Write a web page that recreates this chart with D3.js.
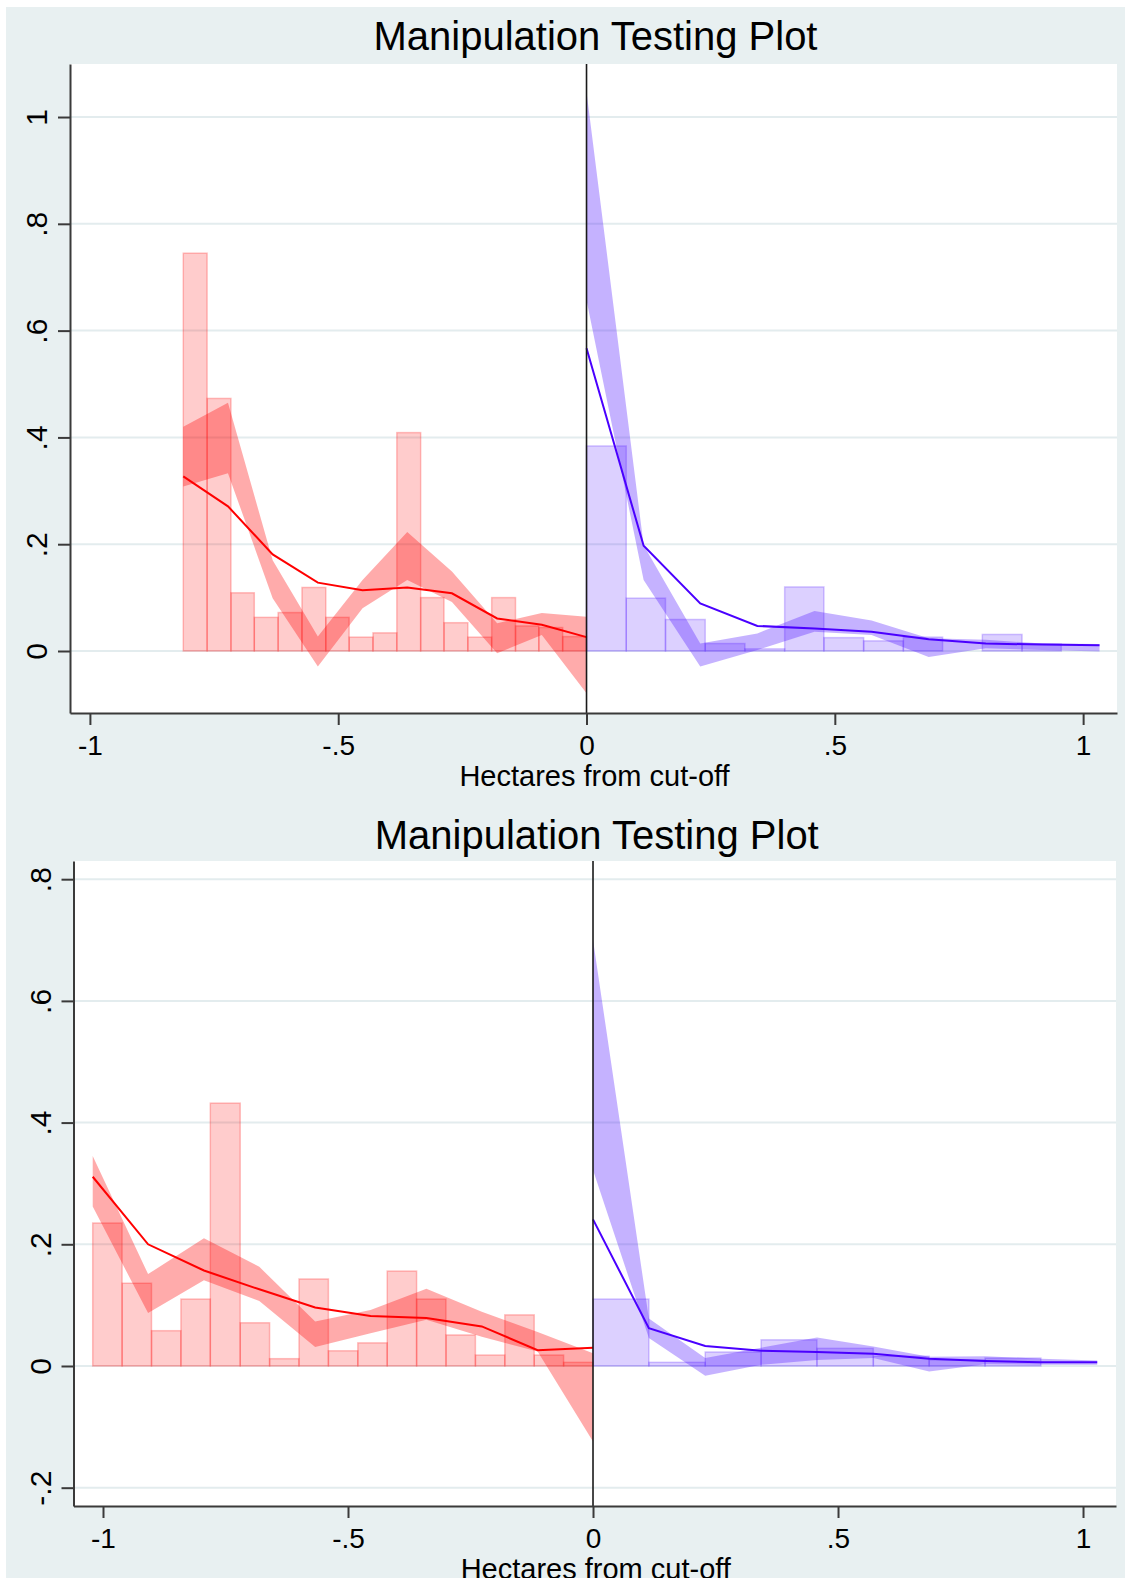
<!DOCTYPE html>
<html>
<head>
<meta charset="utf-8">
<script src="https://cdn.jsdelivr.net/npm/d3@7"></script>
<style>
body { margin: 0; background: #fff; }
text { font-family: Helvetica, "Liberation Sans", Arial, sans-serif; fill: #000; }
</style>
</head>
<body>
<div id="chart"></div>
<script>
// text
var TITLE = "Manipulation Testing Plot";
var XTITLE = "Hectares from cut-off";

// x axis, same on both panels
var XTICKS = [-1, -0.5, 0, 0.5, 1];
var XTICKLABELS = ["-1", "-.5", "0", ".5", "1"];

// top panel: y axis
var TOP_YTICKS = [0, 0.2, 0.4, 0.6, 0.8, 1];
var TOP_YTICKLABELS = ["0", ".2", ".4", ".6", ".8", "1"];

// top panel: left of cut-off (histogram bin edges + heights)
var TOP_L_EDGES = [-0.812, -0.764, -0.716, -0.669, -0.621, -0.573, -0.525, -0.478, -0.430,
    -0.382, -0.334, -0.287, -0.239, -0.191, -0.143, -0.096, -0.048, 0];
var TOP_L_HIST = [0.745, 0.473, 0.109, 0.063, 0.072, 0.119, 0.063, 0.026, 0.034,
    0.409, 0.100, 0.053, 0.026, 0.100, 0.047, 0.044, 0.027];
// top panel: left density fit and confidence band
var TOP_L_X = [-0.812, -0.722, -0.632, -0.541, -0.451, -0.361, -0.271, -0.180, -0.090, 0];
var TOP_L_FIT = [0.327, 0.271, 0.181, 0.128, 0.114, 0.119, 0.108, 0.061, 0.049, 0.026];
var TOP_L_LO = [0.308, 0.333, 0.099, -0.029, 0.080, 0.133, 0.092, -0.004, 0.030, -0.079];
var TOP_L_HI = [0.420, 0.465, 0.170, 0.027, 0.133, 0.223, 0.149, 0.052, 0.071, 0.064];

// top panel: right of cut-off
var TOP_R_EDGES = [0, 0.080, 0.159, 0.239, 0.319, 0.399, 0.478, 0.558, 0.638, 0.717, 0.797, 0.877, 0.956];
var TOP_R_HIST = [0.384, 0.099, 0.059, 0.014, 0.004, 0.120, 0.025, 0.019, 0.026, 0, 0.031, 0.013];
var TOP_R_X = [0, 0.115, 0.229, 0.344, 0.459, 0.574, 0.689, 0.804, 0.918, 1.033];
var TOP_R_FIT = [0.567, 0.197, 0.089, 0.047, 0.042, 0.036, 0.022, 0.014, 0.012, 0.011];
var TOP_R_LO = [0.657, 0.133, -0.029, 0.002, 0.036, 0.030, -0.011, 0.005, 0.002, -0.001];
var TOP_R_HI = [1.047, 0.198, 0.014, 0.033, 0.075, 0.057, 0.024, 0.021, 0.014, 0.013];

// bottom panel: y axis
var BOT_YTICKS = [-0.2, 0, 0.2, 0.4, 0.6, 0.8];
var BOT_YTICKLABELS = ["-.2", "0", ".2", ".4", ".6", ".8"];

// bottom panel: left of cut-off
var BOT_L_EDGES = [-1.021, -0.961, -0.901, -0.841, -0.781, -0.720, -0.660, -0.600, -0.540,
    -0.480, -0.420, -0.360, -0.300, -0.240, -0.180, -0.120, -0.060, 0];
var BOT_L_HIST = [0.235, 0.136, 0.058, 0.110, 0.432, 0.071, 0.012, 0.143, 0.025,
    0.038, 0.156, 0.110, 0.051, 0.018, 0.084, 0.018, 0.006];
var BOT_L_X = [-1.021, -0.908, -0.794, -0.681, -0.567, -0.454, -0.340, -0.227, -0.113, 0];
var BOT_L_FIT = [0.311, 0.200, 0.157, 0.126, 0.096, 0.082, 0.079, 0.065, 0.026, 0.030];
var BOT_L_LO = [0.262, 0.087, 0.141, 0.107, 0.031, 0.054, 0.076, 0.048, 0.024, -0.124];
var BOT_L_HI = [0.345, 0.151, 0.210, 0.163, 0.073, 0.092, 0.127, 0.089, 0.056, 0.021];

// bottom panel: right of cut-off
var BOT_R_EDGES = [0, 0.114, 0.229, 0.343, 0.457, 0.572, 0.686, 0.800, 0.914];
var BOT_R_HIST = [0.110, 0.006, 0.023, 0.043, 0.029, 0.016, 0.010, 0.013];
var BOT_R_X = [0, 0.114, 0.229, 0.343, 0.457, 0.572, 0.686, 0.800, 0.914, 1.029];
var BOT_R_FIT = [0.241, 0.062, 0.033, 0.025, 0.023, 0.020, 0.012, 0.008, 0.006, 0.006];
var BOT_R_LO = [0.322, 0.046, -0.016, 0.002, 0.010, 0.013, -0.009, 0.003, 0.002, 0.002];
var BOT_R_HI = [0.700, 0.078, 0.013, 0.030, 0.047, 0.032, 0.015, 0.016, 0.012, 0.009];

// colours (stata s2color look)
var BG = "#e8f0f1",
    GRID = "#e3ecee",
    RED = "#ff0000",
    BLUE = "#4a00ff",
    RED_RGB = "255,0,0",
    BLUE_RGB = "80,20,255";

var W = 1125, H = 1578;

var svg = d3.select("#chart").append("svg")
    .attr("width", W)
    .attr("height", H);

svg.append("rect")
    .attr("x", 6)
    .attr("y", 7)
    .attr("width", W - 6)
    .attr("height", H - 7)
    .attr("fill", BG);

function drawPanel(p) {
    var x = d3.scaleLinear().domain(p.xDom).range([p.left, p.right]);
    var y = d3.scaleLinear().domain(p.yDom).range([p.bottom, p.top]);

    var g = svg.append("g");

    // plot region
    g.append("rect")
        .attr("x", p.left)
        .attr("y", p.top)
        .attr("width", p.right - p.left)
        .attr("height", p.bottom - p.top)
        .attr("fill", "#fff");

    // gridlines
    g.selectAll("line.grid")
        .data(p.yTicks)
        .enter().append("line")
        .attr("class", "grid")
        .attr("x1", p.left)
        .attr("x2", p.right)
        .attr("y1", function (d) { return y(d); })
        .attr("y2", function (d) { return y(d); })
        .attr("stroke", GRID)
        .attr("stroke-width", 2);

    // histogram bars on each side
    p.sides.forEach(function (s) {
        g.append("g").selectAll("rect")
            .data(s.hist)
            .enter().append("rect")
            .attr("x", function (d, i) { return x(s.edges[i]); })
            .attr("width", function (d, i) { return x(s.edges[i + 1]) - x(s.edges[i]); })
            .attr("y", function (d) { return y(d); })
            .attr("height", function (d) { return y(0) - y(d); })
            .attr("fill", "rgba(" + s.rgb + ",0.2)")
            .attr("stroke", "rgba(" + s.rgb + ",0.24)")
            .attr("stroke-width", 1.5);
    });

    // confidence bands
    p.sides.forEach(function (s) {
        var area = d3.area()
            .x(function (d, i) { return x(s.xs[i]); })
            .y0(function (d, i) { return y(s.lo[i]); })
            .y1(function (d, i) { return y(s.hi[i]); });
        g.append("path")
            .datum(s.xs)
            .attr("d", area)
            .attr("fill", "rgba(" + s.rgb + ",0.33)");
    });

    // density fits
    p.sides.forEach(function (s) {
        var line = d3.line()
            .x(function (d, i) { return x(s.xs[i]); })
            .y(function (d) { return y(d); });
        g.append("path")
            .datum(s.fit)
            .attr("d", line)
            .attr("fill", "none")
            .attr("stroke", s.color)
            .attr("stroke-width", 2);
    });

    // cut-off line
    g.append("line")
        .attr("x1", x(0))
        .attr("x2", x(0))
        .attr("y1", p.top)
        .attr("y2", p.bottom)
        .attr("stroke", "#1a1a1a")
        .attr("stroke-width", 1.6);

    // y axis, labels turned like stata does
    var yAxis = g.append("g")
        .attr("transform", "translate(" + p.left + ",0)")
        .call(d3.axisLeft(y)
            .tickValues(p.yTicks)
            .tickFormat(function (d, i) { return p.yLabels[i]; })
            .tickSize(12)
            .tickSizeOuter(0));
    yAxis.selectAll("text")
        .attr("x", 0)
        .attr("y", -23)
        .attr("dy", 0)
        .attr("transform", "rotate(-90)")
        .attr("text-anchor", "middle")
        .style("font-size", "30px");

    // x axis
    var xAxis = g.append("g")
        .attr("transform", "translate(0," + p.bottom + ")")
        .call(d3.axisBottom(x)
            .tickValues(XTICKS)
            .tickFormat(function (d, i) { return XTICKLABELS[i]; })
            .tickSize(12)
            .tickSizeOuter(0));
    xAxis.selectAll("text")
        .attr("y", 42)
        .attr("dy", 0)
        .style("font-size", "28px");

    [yAxis, xAxis].forEach(function (a) {
        a.select(".domain").attr("stroke", "#3a3a3a").attr("stroke-width", 2);
        a.selectAll(".tick line").attr("stroke", "#3a3a3a").attr("stroke-width", 2);
        a.selectAll("text").attr("fill", "#000").style("font-family", "Helvetica, 'Liberation Sans', Arial, sans-serif");
    });

    // titles
    g.append("text")
        .attr("x", (p.left + p.right) / 2 + 2)
        .attr("y", p.titleY)
        .attr("text-anchor", "middle")
        .style("font-size", "40px")
        .text(TITLE);

    g.append("text")
        .attr("x", (p.left + p.right) / 2 + 1)
        .attr("y", p.bottom + 73)
        .attr("text-anchor", "middle")
        .style("font-size", "29px")
        .text(XTITLE);
}

drawPanel({
    left: 70, right: 1117, top: 64, bottom: 713,
    xDom: [-1.0401, 1.0682], yDom: [-0.1161, 1.0993],
    titleY: 50,
    yTicks: TOP_YTICKS, yLabels: TOP_YTICKLABELS,
    sides: [
        { edges: TOP_L_EDGES, hist: TOP_L_HIST, xs: TOP_L_X, fit: TOP_L_FIT, lo: TOP_L_LO, hi: TOP_L_HI, rgb: RED_RGB, color: RED },
        { edges: TOP_R_EDGES, hist: TOP_R_HIST, xs: TOP_R_X, fit: TOP_R_FIT, lo: TOP_R_LO, hi: TOP_R_HI, rgb: BLUE_RGB, color: BLUE }
    ]
});

drawPanel({
    left: 73.5, right: 1116, top: 861, bottom: 1506,
    xDom: [-1.0602, 1.0673], yDom: [-0.2301, 0.8299],
    titleY: 849,
    yTicks: BOT_YTICKS, yLabels: BOT_YTICKLABELS,
    sides: [
        { edges: BOT_L_EDGES, hist: BOT_L_HIST, xs: BOT_L_X, fit: BOT_L_FIT, lo: BOT_L_LO, hi: BOT_L_HI, rgb: RED_RGB, color: RED },
        { edges: BOT_R_EDGES, hist: BOT_R_HIST, xs: BOT_R_X, fit: BOT_R_FIT, lo: BOT_R_LO, hi: BOT_R_HI, rgb: BLUE_RGB, color: BLUE }
    ]
});
</script>
</body>
</html>
